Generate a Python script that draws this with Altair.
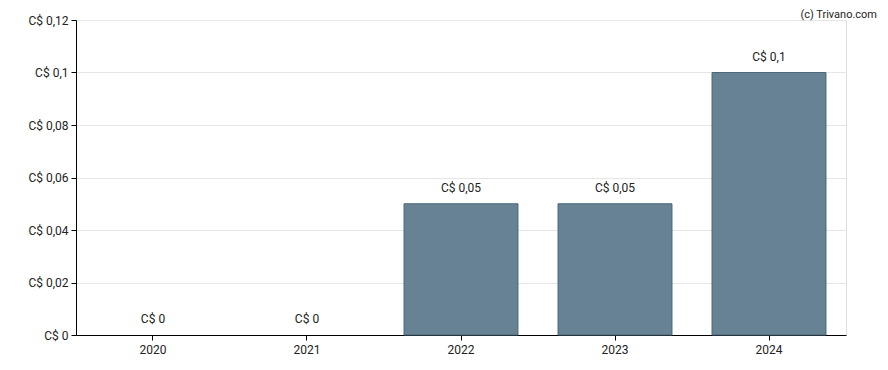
import altair as alt
import pandas as pd

years = ["2020", "2021", "2022", "2023", "2024"]
values = [0.0, 0.0, 0.05, 0.05, 0.1]
y_ticks = [0, 0.02, 0.04, 0.06, 0.08, 0.1, 0.12]

df = pd.DataFrame({"year": years, "value": values})

FONT = "Roboto"

base = alt.Chart(df).encode(
    x=alt.X("year:N", sort=years, title=None,
            scale=alt.Scale(paddingInner=0.26, paddingOuter=0.13),
            axis=alt.Axis(labelAngle=0, domainColor="#000", tickColor="#000",
                          tickSize=5, labelFontSize=12, labelColor="#222",
                          labelFont=FONT, labelPadding=4, grid=False)),
)

bars = base.transform_filter("datum.value > 0").mark_bar(
    color="#668293", stroke="#4b687c", strokeWidth=1
).encode(
    y=alt.Y("value:Q", title=None,
            scale=alt.Scale(domain=[0, 0.12], nice=False),
            axis=alt.Axis(values=y_ticks,
                          labelExpr="'C$ ' + replace(toString(datum.value), '.', ',')",
                          domainColor="#000", tickColor="#000", tickSize=5,
                          gridColor="#e6e6e6", labelFontSize=12, labelColor="#222",
                          labelFont=FONT, labelPadding=3)),
)

labels = base.transform_calculate(
    lab="'C$ ' + replace(toString(datum.value), '.', ',')"
).mark_text(baseline="bottom", dy=-9, fontSize=12, font=FONT, color="#222").encode(
    y=alt.Y("value:Q"),
    text="lab:N",
)

wm = alt.Chart(pd.DataFrame({"t": ["(c) Trivano.com"]})).mark_text(
    align="right", baseline="top", fontSize=11, font=FONT, color="#222"
).encode(x=alt.value(801), y=alt.value(-11), text="t:N")

chart = alt.layer(bars, labels, wm).properties(
    width=770, height=315,
    autosize=alt.AutoSizeParams(type="none"),
    padding={"left": 68, "top": 12, "right": 34, "bottom": 20},
).configure_view(stroke=None).configure(font=FONT)

chart.save("out.html", embed_options={"renderer": "svg", "actions": False})
